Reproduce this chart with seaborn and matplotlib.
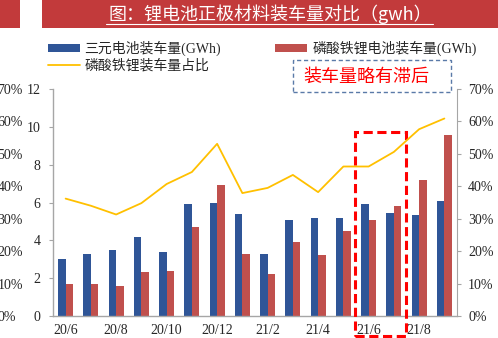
import numpy as np
import pandas as pd
import matplotlib
matplotlib.use("Agg")
import matplotlib.pyplot as plt
import seaborn as sns
from matplotlib.patches import Patch, Rectangle
from matplotlib.lines import Line2D

months = ["20/6", "20/7", "20/8", "20/9", "20/10", "20/11", "20/12", "21/1",
          "21/2", "21/3", "21/4", "21/5", "21/6", "21/7", "21/8", "21/9"]
ternary = [3.0, 3.3, 3.5, 4.2, 3.4, 5.9, 6.0, 5.4, 3.3, 5.1, 5.2, 5.2, 5.9, 5.45, 5.35, 6.1]
lfp = [1.7, 1.7, 1.6, 2.3, 2.4, 4.7, 6.9, 3.3, 2.2, 3.9, 3.2, 4.5, 5.1, 5.8, 7.2, 9.55]
lfp_share = [0.362, 0.340, 0.313, 0.348, 0.407, 0.444, 0.531, 0.379,
             0.395, 0.435, 0.382, 0.461, 0.461, 0.506, 0.576, 0.609]
left_ticks = [0, 2, 4, 6, 8, 10, 12]
pct_ticks = [0, 0.1, 0.2, 0.3, 0.4, 0.5, 0.6, 0.7]
pct_labels = ["0%", "10%", "20%", "30%", "40%", "50%", "60%", "70%"]
label_months = ["20/6", "20/8", "20/10", "20/12", "21/2", "21/4", "21/6", "21/8"]

name_t = "三元电池装车量(GWh)"
name_l = "磷酸铁锂电池装车量(GWh)"
name_s = "磷酸铁锂装车量占比"
title = "图：锂电池正极材料装车量对比（gwh）"
note = "装车量略有滞后"

BLUE = "#2F5597"
RED = "#C0504D"
YEL = "#FFC000"
GRAY = "#A6A6A6"

sns.set_style("white")
FONT = ["Liberation Serif", "Noto Sans CJK SC"]
plt.rcParams["font.family"] = FONT

W, H = 498, 338
fig = plt.figure(figsize=(W / 100, H / 100), dpi=100)

def fx(px):
    return px / W

def fy(py):
    return 1 - py / H

ax = fig.add_axes([fx(53), fy(316), fx(457) - fx(53), fy(89) - fy(316)])

df = pd.DataFrame({
    "month": months * 2,
    "value": ternary + lfp,
    "type": [name_t] * len(months) + [name_l] * len(months),
})
sns.barplot(data=df, x="month", y="value", hue="type", order=months,
            hue_order=[name_t, name_l], palette=[BLUE, RED], width=0.6,
            saturation=1, ax=ax, legend=False, edgecolor="none")

ax.set_xlim(-0.5, len(months) - 0.5)
ax.set_ylim(0, 12)
ax.set_yticks(left_ticks)
ax.set_yticklabels([str(t) for t in left_ticks], fontsize=10)
ax.set_xlabel("")
ax.set_ylabel("")
idx = [months.index(m) for m in label_months]
ax.set_xticks(idx)
ax.set_xticklabels(label_months, fontsize=10)
ax.set_xticks(np.arange(-0.5, len(months)), minor=True)
ax.tick_params(axis="x", which="major", length=0, pad=6)
ax.tick_params(axis="x", which="minor", length=4, color=GRAY, direction="out")
ax.tick_params(axis="y", length=3, color=GRAY, direction="out", pad=6)
for s in ["top", "right"]:
    ax.spines[s].set_visible(False)
for s in ["left", "bottom"]:
    ax.spines[s].set_color(GRAY)
    ax.spines[s].set_linewidth(1.0)

ax2 = ax.twinx()
sns.lineplot(x=np.arange(len(months)), y=lfp_share, ax=ax2, color=YEL, linewidth=1.3)
ax2.set_ylim(0, 0.7)
ax2.set_yticks(pct_ticks)
ax2.set_yticklabels(pct_labels, fontsize=10)
ax2.tick_params(axis="y", length=3, color=GRAY, direction="out", pad=5)
for s in ["top", "left", "bottom"]:
    ax2.spines[s].set_visible(False)
ax2.spines["right"].set_color(GRAY)
ax2.set_ylabel("")

ax3 = ax.twinx()
ax3.set_ylim(0, 0.7)
ax3.set_yticks(pct_ticks)
ax3.set_yticklabels(pct_labels, fontsize=10)
ax3.yaxis.set_ticks_position("left")
ax3.tick_params(axis="y", length=0, pad=40)
for lab in ax3.get_yticklabels():
    lab.set_horizontalalignment("left")
for s in ax3.spines.values():
    s.set_visible(False)

# red dashed highlight box around 21/6 - 21/7
ax.add_patch(Rectangle((11.47, -1.05), 2.02, 10.78, fill=False, edgecolor="#FF0000",
                       linestyle=(0, (3, 1.5)), linewidth=2.2, clip_on=False, zorder=5))

# title banner
fig.patches.append(Rectangle((fx(0), fy(28)), fx(20), fy(0) - fy(28), transform=fig.transFigure,
                             facecolor="#C23A3B", edgecolor="none", zorder=0))
fig.patches.append(Rectangle((fx(42), fy(28)), fx(498) - fx(42), fy(0) - fy(28),
                             transform=fig.transFigure, facecolor="#C23A3B", edgecolor="none", zorder=0))
fig.text(fx(270), fy(14), title, color="white", fontsize=13, ha="center", va="center",
         family=["Noto Sans CJK SC"])
fig.add_artist(Line2D([fx(106), fx(433)], [fy(23.5), fy(23.5)], transform=fig.transFigure,
                      color="white", linewidth=0.8))

# legend
handles = [Patch(facecolor=BLUE, edgecolor="none"),
           Line2D([0], [0], color=YEL, linewidth=1.3),
           Patch(facecolor=RED, edgecolor="none")]
labels = [name_t, name_s, name_l]
fig.legend(handles, labels, loc="upper left", bbox_to_anchor=(fx(38), fy(31)), ncol=2,
           frameon=False, fontsize=10, handlelength=2.3, handleheight=0.55,
           handletextpad=0.35, columnspacing=3.9, labelspacing=0.2, borderpad=0.2)

# annotation box
fig.patches.append(Rectangle((fx(293), fy(92)), fx(451) - fx(293), fy(60) - fy(92),
                             transform=fig.transFigure, fill=False, edgecolor="#5A7AA8",
                             linestyle=(0, (3, 2)), linewidth=1.0))
fig.text(fx(366), fy(77), note, color="#FF0000", fontsize=13, ha="center", va="center",
         family=["Noto Sans CJK SC"])

fig.savefig("out.png", dpi=100)
